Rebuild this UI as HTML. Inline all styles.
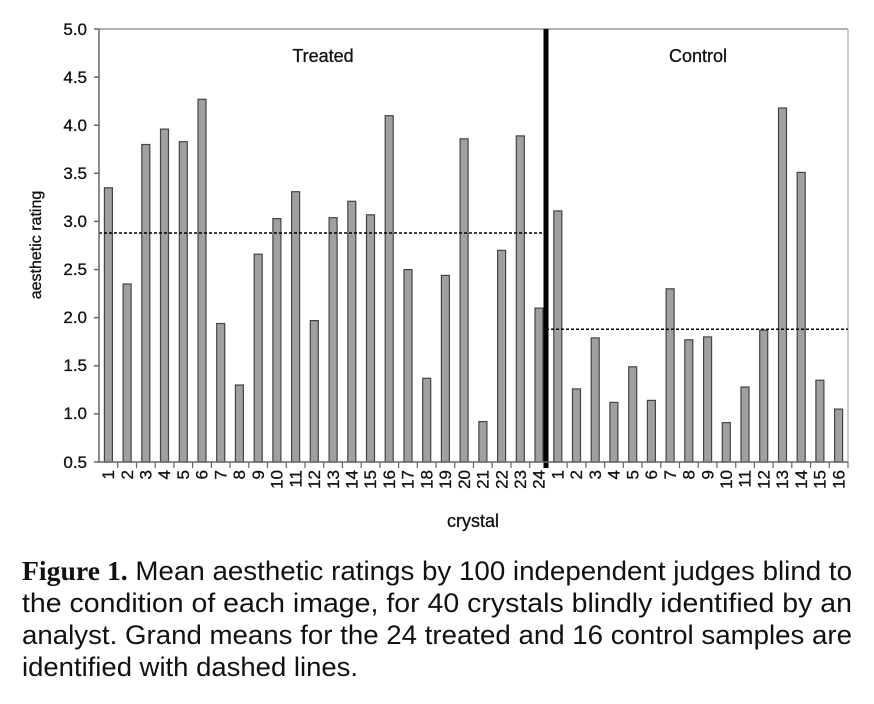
<!DOCTYPE html>
<html><head><meta charset="utf-8"><style>body{margin:0;background:#fff}svg{display:block}</style></head><body>
<svg width="874" height="704" xmlns="http://www.w3.org/2000/svg" font-family="Liberation Sans, sans-serif">
<rect width="874" height="704" fill="#fff"/>
<line x1="99" y1="29" x2="848" y2="29" stroke="#999" stroke-width="1.5"/>
<line x1="848" y1="29" x2="848" y2="462" stroke="#bbb" stroke-width="1.5"/>
<g fill="#a0a0a0" stroke="#444" stroke-width="1.2">
<rect x="104.4" y="187.8" width="8" height="274.2"/>
<rect x="123.1" y="284.0" width="8" height="178.0"/>
<rect x="141.8" y="144.5" width="8" height="317.5"/>
<rect x="160.5" y="129.1" width="8" height="332.9"/>
<rect x="179.3" y="141.7" width="8" height="320.3"/>
<rect x="198.0" y="99.3" width="8" height="362.7"/>
<rect x="216.7" y="323.5" width="8" height="138.5"/>
<rect x="235.4" y="385.0" width="8" height="77.0"/>
<rect x="254.2" y="254.2" width="8" height="207.8"/>
<rect x="272.9" y="218.6" width="8" height="243.4"/>
<rect x="291.6" y="191.7" width="8" height="270.3"/>
<rect x="310.3" y="320.6" width="8" height="141.4"/>
<rect x="329.1" y="217.7" width="8" height="244.3"/>
<rect x="347.8" y="201.3" width="8" height="260.7"/>
<rect x="366.5" y="214.8" width="8" height="247.2"/>
<rect x="385.2" y="115.7" width="8" height="346.3"/>
<rect x="404.0" y="269.6" width="8" height="192.4"/>
<rect x="422.7" y="378.3" width="8" height="83.7"/>
<rect x="441.4" y="275.4" width="8" height="186.6"/>
<rect x="460.1" y="138.8" width="8" height="323.2"/>
<rect x="478.9" y="421.6" width="8" height="40.4"/>
<rect x="497.6" y="250.4" width="8" height="211.6"/>
<rect x="516.3" y="135.9" width="8" height="326.1"/>
<rect x="535.0" y="308.1" width="8" height="153.9"/>
<rect x="553.8" y="210.9" width="8" height="251.1"/>
<rect x="572.5" y="388.9" width="8" height="73.1"/>
<rect x="591.2" y="337.9" width="8" height="124.1"/>
<rect x="609.9" y="402.4" width="8" height="59.6"/>
<rect x="628.7" y="366.8" width="8" height="95.2"/>
<rect x="647.4" y="400.4" width="8" height="61.6"/>
<rect x="666.1" y="288.8" width="8" height="173.2"/>
<rect x="684.8" y="339.8" width="8" height="122.2"/>
<rect x="703.6" y="336.9" width="8" height="125.1"/>
<rect x="722.3" y="422.6" width="8" height="39.4"/>
<rect x="741.0" y="387.0" width="8" height="75.0"/>
<rect x="759.7" y="330.2" width="8" height="131.8"/>
<rect x="778.5" y="108.0" width="8" height="354.0"/>
<rect x="797.2" y="172.4" width="8" height="289.6"/>
<rect x="815.9" y="380.2" width="8" height="81.8"/>
<rect x="834.6" y="409.1" width="8" height="52.9"/>
</g>
<line x1="99" y1="233" x2="546" y2="233" stroke="#000" stroke-width="1.5" stroke-dasharray="3,2"/>
<line x1="546" y1="329.2" x2="848" y2="329.2" stroke="#000" stroke-width="1.5" stroke-dasharray="3,2"/>
<line x1="546" y1="29" x2="546" y2="468" stroke="#000" stroke-width="5"/>
<g stroke="#666" stroke-width="1.5">
<line x1="99" y1="29" x2="99" y2="462"/><line x1="99" y1="462" x2="848" y2="462"/>
<line x1="94" y1="29" x2="99" y2="29"/><line x1="94" y1="77.1" x2="99" y2="77.1"/><line x1="94" y1="125.2" x2="99" y2="125.2"/><line x1="94" y1="173.3" x2="99" y2="173.3"/><line x1="94" y1="221.4" x2="99" y2="221.4"/><line x1="94" y1="269.6" x2="99" y2="269.6"/><line x1="94" y1="317.7" x2="99" y2="317.7"/><line x1="94" y1="365.8" x2="99" y2="365.8"/><line x1="94" y1="413.9" x2="99" y2="413.9"/><line x1="94" y1="462" x2="99" y2="462"/>
</g>
<g stroke="#666" stroke-width="1.2">
<path d="M117.7 462v6M136.5 462v6M155.2 462v6M173.9 462v6M192.6 462v6M211.4 462v6M230.1 462v6M248.8 462v6M267.5 462v6M286.3 462v6M305 462v6M323.7 462v6M342.4 462v6M361.2 462v6M379.9 462v6M398.6 462v6M417.3 462v6M436.1 462v6M454.8 462v6M473.5 462v6M492.2 462v6M511 462v6M529.7 462v6M567.1 462v6M585.9 462v6M604.6 462v6M623.3 462v6M642 462v6M660.8 462v6M679.5 462v6M698.2 462v6M716.9 462v6M735.7 462v6M754.4 462v6M773.1 462v6M791.8 462v6M810.6 462v6M829.3 462v6M848 462v6"/>
</g>
<g font-size="17" fill="#111" stroke="#111" stroke-width="0.3" text-anchor="end">
<text x="87" y="35">5.0</text><text x="87" y="83">4.5</text><text x="87" y="131">4.0</text><text x="87" y="179">3.5</text><text x="87" y="227">3.0</text><text x="87" y="275">2.5</text><text x="87" y="323">2.0</text><text x="87" y="371">1.5</text><text x="87" y="419">1.0</text><text x="87" y="468">0.5</text>
</g>
<text transform="translate(41,245) rotate(-90)" font-size="16" fill="#111" stroke="#111" stroke-width="0.3" text-anchor="middle">aesthetic rating</text>
<text x="323" y="62" font-size="18" fill="#111" stroke="#111" stroke-width="0.3" text-anchor="middle">Treated</text>
<text x="698" y="62" font-size="18" fill="#111" stroke="#111" stroke-width="0.3" text-anchor="middle">Control</text>
<text x="473" y="527" font-size="18" fill="#111" stroke="#111" stroke-width="0.3" text-anchor="middle">crystal</text>
<g font-size="17" fill="#111" stroke="#111" stroke-width="0.3" text-anchor="end">
<text transform="translate(114,470) rotate(-90)">1</text>
<text transform="translate(133,470) rotate(-90)">2</text>
<text transform="translate(151.5,470) rotate(-90)">3</text>
<text transform="translate(170.2,470) rotate(-90)">4</text>
<text transform="translate(189,470) rotate(-90)">5</text>
<text transform="translate(207.7,470) rotate(-90)">6</text>
<text transform="translate(226.4,470) rotate(-90)">7</text>
<text transform="translate(245.1,470) rotate(-90)">8</text>
<text transform="translate(263.9,470) rotate(-90)">9</text>
<text transform="translate(282.6,470) rotate(-90)">10</text>
<text transform="translate(301.3,470) rotate(-90)">11</text>
<text transform="translate(320,470) rotate(-90)">12</text>
<text transform="translate(338.8,470) rotate(-90)">13</text>
<text transform="translate(357.5,470) rotate(-90)">14</text>
<text transform="translate(376.2,470) rotate(-90)">15</text>
<text transform="translate(394.9,470) rotate(-90)">16</text>
<text transform="translate(413.7,470) rotate(-90)">17</text>
<text transform="translate(432.4,470) rotate(-90)">18</text>
<text transform="translate(451.1,470) rotate(-90)">19</text>
<text transform="translate(469.8,470) rotate(-90)">20</text>
<text transform="translate(488.6,470) rotate(-90)">21</text>
<text transform="translate(507.3,470) rotate(-90)">22</text>
<text transform="translate(526,470) rotate(-90)">23</text>
<text transform="translate(544.7,470) rotate(-90)">24</text>
<text transform="translate(563.5,470) rotate(-90)">1</text>
<text transform="translate(582.2,470) rotate(-90)">2</text>
<text transform="translate(600.9,470) rotate(-90)">3</text>
<text transform="translate(619.6,470) rotate(-90)">4</text>
<text transform="translate(638.4,470) rotate(-90)">5</text>
<text transform="translate(657.1,470) rotate(-90)">6</text>
<text transform="translate(675.8,470) rotate(-90)">7</text>
<text transform="translate(694.5,470) rotate(-90)">8</text>
<text transform="translate(713.3,470) rotate(-90)">9</text>
<text transform="translate(732,470) rotate(-90)">10</text>
<text transform="translate(750.7,470) rotate(-90)">11</text>
<text transform="translate(769.4,470) rotate(-90)">12</text>
<text transform="translate(788.2,470) rotate(-90)">13</text>
<text transform="translate(806.9,470) rotate(-90)">14</text>
<text transform="translate(825.6,470) rotate(-90)">15</text>
<text transform="translate(844.3,470) rotate(-90)">16</text>
</g>
<g font-size="27" fill="#111">
<text x="22" y="580" textLength="830" lengthAdjust="spacingAndGlyphs"><tspan font-family="Liberation Serif, serif" font-weight="bold">Figure 1.</tspan>  Mean aesthetic ratings by 100 independent judges blind to</text>
<text x="22" y="612" textLength="830" lengthAdjust="spacingAndGlyphs">the condition of each image, for 40 crystals blindly identified by an</text>
<text x="22" y="644" textLength="830" lengthAdjust="spacingAndGlyphs">analyst. Grand means for the 24 treated and 16 control samples are</text>
<text x="22" y="676" textLength="336" lengthAdjust="spacingAndGlyphs">identified with dashed lines.</text>
</g>
</svg>
</body></html>
